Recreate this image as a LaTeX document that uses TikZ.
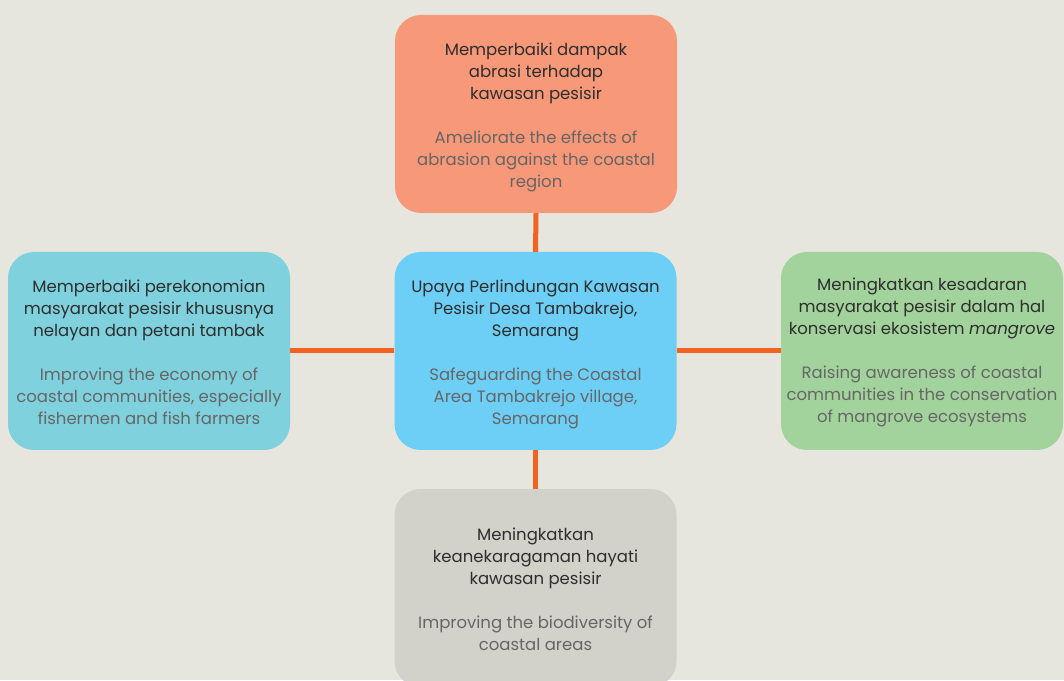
\documentclass[tikz,border=0pt]{standalone}
\usepackage{fontspec}
\setmainfont{Poppins}
\definecolor{bg}{HTML}{E6E6DF}
\definecolor{cTop}{HTML}{F79878}
\definecolor{cMid}{HTML}{6DCFF6}
\definecolor{cLeft}{HTML}{7FD1DE}
\definecolor{cRight}{HTML}{A3D39C}
\definecolor{cBot}{HTML}{D2D1CA}
\definecolor{link}{HTML}{F26322}
\definecolor{titletxt}{HTML}{2E2E2E}
\definecolor{subtxt}{HTML}{666666}
\newcommand{\sub}[1]{\color{subtxt}#1}
\begin{document}
\begin{tikzpicture}[x=1pt,y=1pt,
  box/.style={rounded corners=26pt, minimum width=282pt, minimum height=198pt,
    inner sep=0pt},
  txt/.style={align=center, text=titletxt, inner sep=0pt,
    font=\fontsize{16.5}{22}\selectfont},
  conn/.style={draw=link, line width=5pt}]
\useasboundingbox (0,0) rectangle (1064,680);
\fill[bg] (0,0) rectangle (1064,680);
\begin{scope}
\clip (0,0) rectangle (1064,680);
\node[box, fill=cTop] (top) at (536,566) {};
\node[box, fill=cMid] (mid) at (535.5,329) {};
\node[box, fill=cLeft] (left) at (149,329) {};
\node[box, fill=cRight] (right) at (922,329) {};
\node[box, fill=cBot] (bot) at (535.5,92) {};
\end{scope}
\node[txt] (toptxt) at ([yshift=-3pt]top.center) {Memperbaiki dampak\\abrasi terhadap\\kawasan pesisir\\[22pt]\sub{Ameliorate the effects of}\\\sub{abrasion against the coastal}\\\sub{region}};
\node[txt] (midtxt) at ([yshift=-3pt]mid.center) {Upaya Perlindungan Kawasan\\Pesisir Desa Tambakrejo,\\Semarang\\[22pt]\sub{Safeguarding the Coastal}\\\sub{Area Tambakrejo village,}\\\sub{Semarang}};
\node[txt] (lefttxt) at ([yshift=-1pt]left.center) {Memperbaiki perekonomian\\masyarakat pesisir khususnya\\nelayan dan petani tambak\\[22pt]\sub{Improving the economy of}\\\sub{coastal communities, especially}\\\sub{fishermen and fish farmers}};
\node[txt] (righttxt) at ([yshift=-1pt]right.center) {Meningkatkan kesadaran\\masyarakat pesisir dalam hal\\konservasi ekosistem \textit{mangrove}\\[22pt]\sub{Raising awareness of coastal}\\\sub{communities in the conservation}\\\sub{of mangrove ecosystems}};
\node[txt] (bottxt) at (535.5,91) {Meningkatkan\\keanekaragaman hayati\\kawasan pesisir\\[22pt]\sub{Improving the biodiversity of}\\\sub{coastal areas}};
\draw[conn] (top.south) -- (mid.north);
\draw[conn] (mid.west) -- (left.east);
\draw[conn] (mid.east) -- (right.west);
\draw[conn] (mid.south) -- (bot.north);
\end{tikzpicture}
\end{document}
